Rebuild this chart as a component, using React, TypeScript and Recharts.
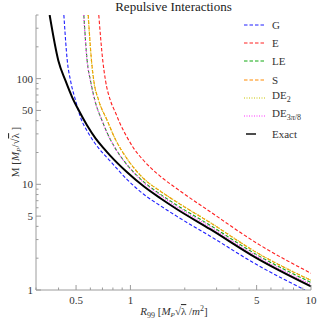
import React from 'react';
import { LineChart, Line, XAxis, YAxis, Legend } from 'recharts';

// R99 [M_P sqrt(lambda)/m^2] vs M [M_P/sqrt(lambda)]
const X_TICKS = [0.3, 0.4, 0.5, 0.6, 0.7, 0.8, 0.9, 1, 2, 3, 4, 5, 6, 7, 8, 9, 10];
const X_LABELS = [0.5, 1, 5, 10];
const Y_TICKS = [1, 2, 3, 4, 5, 6, 7, 8, 9, 10, 20, 30, 40, 50, 60, 70, 80, 90, 100, 200, 300, 400];
const Y_LABELS = [1, 5, 10, 50, 100];

const G = [
  { r: 0.428, m: 400 }, { r: 0.447, m: 148 }, { r: 0.466, m: 95.7 }, { r: 0.497, m: 62 },
  { r: 0.529, m: 43.1 }, { r: 0.588, m: 30.1 }, { r: 0.668, m: 21.9 }, { r: 0.775, m: 16.5 },
  { r: 0.959, m: 11.1 }, { r: 1.184, m: 8.05 }, { r: 1.465, m: 6.27 }, { r: 1.811, m: 4.97 },
  { r: 2.767, m: 3.23 }, { r: 5.0, m: 1.74 }, { r: 9.27, m: 1.0 },
];
const E = [
  { r: 0.668, m: 400 }, { r: 0.703, m: 148 }, { r: 0.728, m: 95.7 }, { r: 0.775, m: 62 },
  { r: 0.826, m: 47.8 }, { r: 0.881, m: 36.8 }, { r: 0.959, m: 27.8 }, { r: 1.043, m: 21.9 },
  { r: 1.184, m: 16.8 }, { r: 1.465, m: 11.9 }, { r: 1.811, m: 9.07 }, { r: 2.767, m: 5.5 },
  { r: 5.0, m: 2.78 }, { r: 10, m: 1.44 },
];
const LE = [
  { r: 0.552, m: 400 }, { r: 0.576, m: 148 }, { r: 0.601, m: 95.7 }, { r: 0.636, m: 62 },
  { r: 0.696, m: 40.2 }, { r: 0.742, m: 30.9 }, { r: 0.79, m: 24.9 }, { r: 0.853, m: 20.0 },
  { r: 0.959, m: 15.3 }, { r: 1.184, m: 10.56 }, { r: 1.465, m: 8.05 }, { r: 1.811, m: 6.34 },
  { r: 2.767, m: 4.09 }, { r: 5.0, m: 2.16 }, { r: 10, m: 1.18 },
];
const S = [
  { r: 0.584, m: 400 }, { r: 0.609, m: 148 }, { r: 0.627, m: 95.7 }, { r: 0.668, m: 62 },
  { r: 0.744, m: 40.2 }, { r: 0.826, m: 26.6 }, { r: 0.959, m: 17.4 }, { r: 1.184, m: 11.3 },
  { r: 1.465, m: 8.59 }, { r: 1.811, m: 6.77 }, { r: 2.767, m: 4.33 }, { r: 5.0, m: 2.26 },
  { r: 10, m: 1.23 },
];
const DE2 = [
  { r: 0.583, m: 400 }, { r: 0.608, m: 148 }, { r: 0.626, m: 95.7 }, { r: 0.667, m: 62 },
  { r: 0.743, m: 40.2 }, { r: 0.825, m: 26.7 }, { r: 0.959, m: 17.45 }, { r: 1.184, m: 11.33 },
  { r: 1.465, m: 8.63 }, { r: 1.811, m: 6.79 }, { r: 2.767, m: 4.36 }, { r: 5.0, m: 2.27 },
  { r: 10, m: 1.24 },
];
const DE3 = [
  { r: 0.551, m: 400 }, { r: 0.575, m: 148 }, { r: 0.6, m: 95.7 }, { r: 0.635, m: 62 },
  { r: 0.695, m: 40.2 }, { r: 0.741, m: 30.8 }, { r: 0.79, m: 24.8 }, { r: 0.853, m: 19.9 },
  { r: 0.959, m: 15.2 }, { r: 1.184, m: 10.38 }, { r: 1.465, m: 7.88 }, { r: 1.811, m: 6.13 },
  { r: 2.767, m: 3.96 }, { r: 5.0, m: 2.09 }, { r: 10, m: 1.13 },
];
const EXACT = [
  { r: 0.357, m: 400 }, { r: 0.399, m: 148 }, { r: 0.437, m: 95.7 }, { r: 0.476, m: 66.6 },
  { r: 0.518, m: 49.9 }, { r: 0.576, m: 36 }, { r: 0.641, m: 27.2 }, { r: 0.712, m: 21.9 },
  { r: 0.775, m: 18.6 }, { r: 0.959, m: 13 }, { r: 1.184, m: 9.57 }, { r: 1.465, m: 7.38 },
  { r: 1.811, m: 5.81 }, { r: 2.767, m: 3.76 }, { r: 5.0, m: 2.0 }, { r: 10, m: 1.08 },
];

const SERIF = '"Liberation Serif", "DejaVu Serif", serif';
const FRAME = '#9c9c9c';
const TEXT = '#333';

const SERIES = [
  { key: 'G', data: G, color: '#1f1fff', dash: '3.5 2', width: 1.1, label: <>G</> },
  { key: 'E', data: E, color: '#ff2020', dash: '3.5 2', width: 1.1, label: <>E</> },
  { key: 'LE', data: LE, color: '#10a810', dash: '3.5 2', width: 1.1, label: <>LE</> },
  { key: 'S', data: S, color: '#ff8a00', dash: '3.5 2', width: 1.1, label: <>S</> },
  { key: 'DE2', data: DE2, color: '#c8c400', dash: '1 1.5', width: 1.2, label: <>DE<sub style={{ fontSize: 8 }}>2</sub></> },
  { key: 'DE3', data: DE3, color: '#ff30ff', dash: '1 1.5', width: 1.2, label: <>DE<sub style={{ fontSize: 8 }}>3<i>π</i>/8</sub></> },
  { key: 'Exact', data: EXACT, color: '#000', dash: undefined, width: 2, label: <>Exact</> },
];

const fmt = (v: number) => String(v);

function makeTick(side: 'bottom' | 'top' | 'left' | 'right', majors: number[], labels: boolean) {
  return (props: any) => {
    const { x, y, payload } = props;
    const v = payload.value;
    const major = majors.includes(v);
    const len = major ? 5 : 2.5;
    let line;
    if (side === 'bottom') line = <line x1={x} y1={y} x2={x} y2={y - len} />;
    else if (side === 'top') line = <line x1={x} y1={y} x2={x} y2={y + len} />;
    else if (side === 'left') line = <line x1={x} y1={y} x2={x + len} y2={y} />;
    else line = <line x1={x} y1={y} x2={x - len} y2={y} />;
    return (
      <g>
        <g stroke={FRAME} strokeWidth={1}>{line}</g>
        {labels && major && side === 'bottom' && (
          <text x={x} y={y + 14} textAnchor="middle" fontFamily={SERIF} fontSize={11} fill={TEXT}>{fmt(v)}</text>
        )}
        {labels && major && side === 'left' && (
          <text x={x - 3} y={y + 4} textAnchor="end" fontFamily={SERIF} fontSize={11} fill={TEXT}>{fmt(v)}</text>
        )}
      </g>
    );
  };
}

const renderLegend = () => (
  <div style={{ fontFamily: SERIF, fontSize: 11, color: TEXT }}>
    {SERIES.map((s) => (
      <div key={s.key} style={{ display: 'flex', alignItems: 'center', height: 18.2 }}>
        <svg width={24} height={6} style={{ display: 'block' }}>
          {s.key === 'Exact' ? (
            <line x1={3} y1={3} x2={13} y2={3} stroke={s.color} strokeWidth={1.4} />
          ) : (
            <line x1={1} y1={3} x2={22} y2={3} stroke={s.color} strokeWidth={1} strokeDasharray={s.dash} />
          )}
        </svg>
        <span style={{ marginLeft: 5, lineHeight: '12px' }}>{s.label}</span>
      </div>
    ))}
  </div>
);

export default function App() {
  return (
    <div style={{ position: 'absolute', left: 0, top: 0, width: 317, height: 321, background: '#fff' }}>
      <div
        style={{
          position: 'absolute', left: 36, top: 0, width: 275, textAlign: 'center',
          fontFamily: SERIF, fontSize: 13, lineHeight: '13px', color: '#222',
        }}
      >
        Repulsive Interactions
      </div>
      <LineChart width={317} height={321} margin={{ top: 15, right: 6, bottom: 0, left: 0 }}>
        <XAxis
          dataKey="r" type="number" scale="log" domain={[0.3, 10]} allowDataOverflow
          ticks={X_TICKS} interval={0} tickSize={0} tickMargin={0} height={31}
          axisLine={{ stroke: FRAME }} tickLine={false} tick={makeTick('bottom', X_LABELS, true)}
          label={{
            content: () => (
              <text x={174} y={315} textAnchor="middle" fontFamily={SERIF} fontSize={11} fill={TEXT}>
                <tspan fontStyle="italic">R</tspan>
                <tspan fontSize={8} dy={2.5}>99</tspan>
                <tspan dy={-2.5}> [</tspan>
                <tspan fontStyle="italic">M</tspan>
                <tspan fontSize={7} fontStyle="italic" dy={2}>P</tspan>
                <tspan dy={-2}>√</tspan>
                <tspan style={{ textDecoration: 'overline' }}>λ</tspan>
                <tspan> /</tspan>
                <tspan fontStyle="italic">m</tspan>
                <tspan fontSize={8} dy={-4}>2</tspan>
                <tspan dy={4}>]</tspan>
              </text>
            ),
          }}
        />
        <XAxis
          xAxisId="top" orientation="top" type="number" scale="log" domain={[0.3, 10]} allowDataOverflow
          ticks={X_TICKS} interval={0} tickSize={0} tickMargin={0} height={0}
          axisLine={{ stroke: FRAME }} tickLine={false} tick={makeTick('top', X_LABELS, false)}
        />
        <YAxis
          dataKey="m" type="number" scale="log" domain={[1, 400]} allowDataOverflow
          ticks={Y_TICKS} interval={0} tickSize={0} tickMargin={0} width={36}
          axisLine={{ stroke: FRAME }} tickLine={false} tick={makeTick('left', Y_LABELS, true)}
          label={{
            content: () => (
              <text x={19} y={152} textAnchor="middle" fontFamily={SERIF} fontSize={11} fill={TEXT}
                transform="rotate(-90, 19, 152)">
                <tspan>M [</tspan>
                <tspan fontStyle="italic">M</tspan>
                <tspan fontSize={7} fontStyle="italic" dy={2}>P</tspan>
                <tspan dy={-2}>/√</tspan>
                <tspan style={{ textDecoration: 'overline' }}>λ</tspan>
                <tspan> ]</tspan>
              </text>
            ),
          }}
        />
        <YAxis
          yAxisId="right" orientation="right" type="number" scale="log" domain={[1, 400]} allowDataOverflow
          ticks={Y_TICKS} interval={0} tickSize={0} tickMargin={0} width={0}
          axisLine={{ stroke: FRAME }} tickLine={false} tick={makeTick('right', Y_LABELS, false)}
        />
        <Legend
          layout="vertical" align="center" verticalAlign="middle"
          content={renderLegend}
          wrapperStyle={{ left: 243, top: 16, width: 70 }}
        />
        {SERIES.map((s) => (
          <Line
            key={s.key}
            name={s.key}
            data={s.data}
            dataKey="m"
            type="monotone"
            stroke={s.color}
            strokeWidth={s.width}
            strokeDasharray={s.dash}
            dot={false}
            activeDot={false}
            isAnimationActive={false}
          />
        ))}
      </LineChart>
    </div>
  );
}
